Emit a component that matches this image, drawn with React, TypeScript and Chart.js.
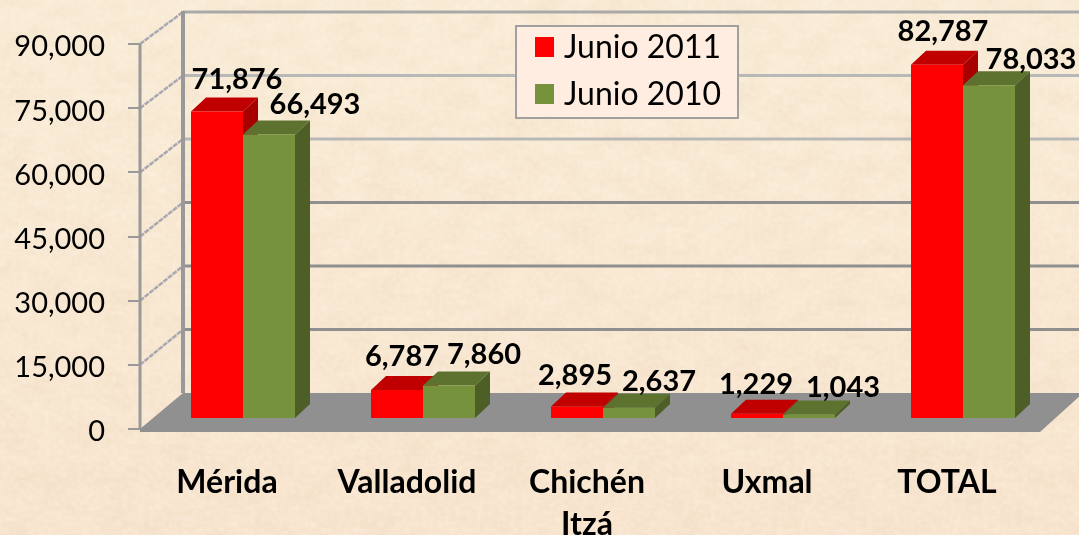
import React, { useEffect, useRef } from "react";
import { Chart, registerables } from "chart.js";

Chart.register(...registerables);

const categories = ["Mérida", "Valladolid", ["Chichén", "Itzá"], "Uxmal", "TOTAL"];
const junio2011 = [71876, 6787, 2895, 1229, 82787];
const junio2010 = [66493, 7860, 2637, 1043, 78033];
const seriesNames = ["Junio 2011", "Junio 2010"];
const tickStep = 15000;
const tickMax = 90000;

const W = 1079;
const H = 535;
// style and layout constants
const FRONT = ["#FF0000", "#76923C"];
const TOP = ["#C00000", "#5E7230"];
const SIDE = ["#A80000", "#4D5F27"];
const BAR_SHIFT = { x: 13, y: -10 };
const BAR_DEPTH = { x: 15, y: -14 };
const WALL_SHIFT = { x: 43 };
const LABEL_NUDGE = [
  [[20, -32], [5, -33], [-2, -31], [-1, -29], [6, -33]],
  [[46, -30], [35, -31], [30, -26], [34, -27], [42, -26]],
];

const fmt = (v: number) => v.toLocaleString("en-US");

const noise = `<svg xmlns='http://www.w3.org/2000/svg' width='${W}' height='${H}'>
<filter id='a' x='0' y='0' width='100%' height='100%'><feTurbulence type='fractalNoise' baseFrequency='0.03 0.045' numOctaves='4' seed='7'/><feColorMatrix values='0 0 0 0 0.82  0 0 0 0 0.64  0 0 0 0 0.46  0.5 0 0 0 -0.17'/></filter>
<filter id='b' x='0' y='0' width='100%' height='100%'><feTurbulence type='fractalNoise' baseFrequency='0.18' numOctaves='2' seed='3'/><feColorMatrix values='0 0 0 0 1  0 0 0 0 0.97  0 0 0 0 0.9  0 0.5 0 0 -0.18'/></filter>
<rect width='100%' height='100%' filter='url(#a)'/><rect width='100%' height='100%' filter='url(#b)'/></svg>`;

const scene3d = {
  id: "scene3d",
  beforeDatasetsDraw(chart: any) {
    const { ctx, scales } = chart;
    const x = scales.x;
    const y = scales.y;
    const backY = (p: number) => p - 32 - ((p - y.top) / (y.bottom - y.top)) * 4;
    const bl = x.left + WALL_SHIFT.x;
    const br = x.right + WALL_SHIFT.x;
    ctx.save();
    y.ticks.forEach((t: any) => {
      const p = y.getPixelForValue(t.value);
      const b = backY(p);
      if (t.value > 0) {
        ctx.beginPath();
        ctx.strokeStyle = t.value <= 45000 ? "#8F8F8F" : t.value === tickMax ? "#A9A9A9" : "#B8B8B8";
        ctx.lineWidth = 3;
        ctx.moveTo(bl, b);
        ctx.lineTo(br, b);
        ctx.stroke();
        ctx.beginPath();
        ctx.strokeStyle = "#A8A8B0";
        ctx.lineWidth = 2.5;
        ctx.setLineDash([5, 1]);
        ctx.moveTo(x.left, p);
        ctx.lineTo(bl, b);
        ctx.stroke();
        ctx.setLineDash([]);
      }
    });
    const zeroY = y.getPixelForValue(0);
    const topY = y.getPixelForValue(tickMax);
    // back-wall left edge
    ctx.beginPath();
    ctx.strokeStyle = "#999999";
    ctx.lineWidth = 4;
    ctx.moveTo(bl, backY(topY) - 1);
    ctx.lineTo(bl, backY(zeroY));
    ctx.stroke();
    // front axis line
    ctx.beginPath();
    ctx.strokeStyle = "#999999";
    ctx.lineWidth = 3;
    ctx.moveTo(x.left, topY);
    ctx.lineTo(x.left, zeroY);
    ctx.stroke();
    // floor
    ctx.beginPath();
    ctx.fillStyle = "#909090";
    ctx.moveTo(x.left, zeroY);
    ctx.lineTo(bl, backY(zeroY));
    ctx.lineTo(br, backY(zeroY));
    ctx.lineTo(x.right, zeroY + 3);
    ctx.lineTo(x.left, zeroY + 3);
    ctx.closePath();
    ctx.fill();
    ctx.restore();

    // bars sit in mid-depth of the box
    ctx.save();
    ctx.translate(BAR_SHIFT.x, BAR_SHIFT.y);
    [0, 1].forEach((d) => {
      chart.getDatasetMeta(d).data.forEach((el: any) => {
        const l = el.x - el.width / 2;
        const r = el.x + el.width / 2;
        const dx = BAR_DEPTH.x;
        const dy = BAR_DEPTH.y;
        ctx.fillStyle = TOP[d];
        ctx.beginPath();
        ctx.moveTo(l, el.y);
        ctx.lineTo(l + dx, el.y + dy);
        ctx.lineTo(r + dx, el.y + dy);
        ctx.lineTo(r, el.y);
        ctx.closePath();
        ctx.fill();
        ctx.fillStyle = SIDE[d];
        ctx.beginPath();
        ctx.moveTo(r, el.y);
        ctx.lineTo(r + dx, el.y + dy);
        ctx.lineTo(r + dx, el.base + dy);
        ctx.lineTo(r, el.base);
        ctx.closePath();
        ctx.fill();
      });
    });
  },
  afterDatasetsDraw(chart: any) {
    const { ctx } = chart;
    ctx.restore();
    // value labels
    ctx.save();
    ctx.fillStyle = "#000";
    ctx.font = "bold 29px Lato";
    ctx.textAlign = "center";
    ctx.textBaseline = "middle";
    [0, 1].forEach((d) => {
      chart.getDatasetMeta(d).data.forEach((el: any, i: number) => {
        const v = chart.data.datasets[d].data[i];
        const [nx, ny] = LABEL_NUDGE[d][i];
        ctx.fillText(fmt(v), el.x + BAR_SHIFT.x + nx, el.y + BAR_SHIFT.y + ny);
      });
    });
    // legend box
    const lx = 516;
    const ly = 26;
    const lw = 222;
    const lh = 92;
    ctx.fillStyle = "#FEEDE0";
    ctx.strokeStyle = "#A0A0A0";
    ctx.lineWidth = 2;
    ctx.fillRect(lx, ly, lw, lh);
    ctx.strokeRect(lx, ly, lw, lh);
    ctx.font = "32px Lato";
    ctx.textAlign = "left";
    chart.data.datasets.forEach((ds: any, d: number) => {
      const cy = ly + 21 + d * 47;
      ctx.fillStyle = ds.backgroundColor;
      ctx.fillRect(lx + 19, cy - 10, 19, 20);
      ctx.fillStyle = "#000";
      ctx.fillText(ds.label, lx + 48, cy + 1);
    });
    ctx.restore();
  },
};

export default function App() {
  const ref = useRef<HTMLCanvasElement | null>(null);
  useEffect(() => {
    document.body.style.margin = "0";
    const chart = new Chart(ref.current as HTMLCanvasElement, {
      type: "bar",
      data: {
        labels: categories as any,
        datasets: [
          { label: seriesNames[0], data: junio2011, backgroundColor: FRONT[0], clip: false as any },
          { label: seriesNames[1], data: junio2010, backgroundColor: FRONT[1], clip: false as any },
        ],
      },
      options: {
        animation: false,
        responsive: false,
        events: [],
        layout: { padding: { top: 44, right: 39, left: 0, bottom: 0 } },
        datasets: { bar: { categoryPercentage: 104 / 180, barPercentage: 1 } },
        plugins: { legend: { display: false }, tooltip: { enabled: false } },
        scales: {
          x: {
            afterFit(s: any) {
              s.height = 106;
            },
            grid: { display: false, drawTicks: false },
            border: { display: false },
            ticks: {
              color: "#000",
              font: { family: "Lato", size: 32, weight: "bold", lineHeight: 1.3 },
              padding: 33,
              labelOffset: -3,
              maxRotation: 0,
              minRotation: 0,
              autoSkip: false,
            },
          },
          y: {
            min: 0,
            max: tickMax,
            afterFit(s: any) {
              s.width = 140;
            },
            grid: { drawOnChartArea: false, color: "#999999", tickLength: 12, lineWidth: 2 },
            border: { color: "#999999", width: 2 },
            ticks: {
              stepSize: tickStep,
              color: "#000",
              padding: 23,
              labelOffset: 3,
              font: { family: "Lato", size: 29 },
              callback: (v: any) => fmt(Number(v)),
            },
          },
        },
      },
      plugins: [scene3d as any],
    });
    return () => chart.destroy();
  }, []);
  return (
    <div
      style={{
        position: "fixed",
        left: 0,
        top: 0,
        width: W,
        height: H,
        overflow: "hidden",
        backgroundColor: "#F9E8D2",
        backgroundImage: `url("data:image/svg+xml,${encodeURIComponent(noise)}"), linear-gradient(180deg, #F9ECD6 0%, #F8E4CE 100%)`,
      }}
    >
      <canvas ref={ref} width={W} height={H} style={{ display: "block", width: W, height: H }} />
    </div>
  );
}
